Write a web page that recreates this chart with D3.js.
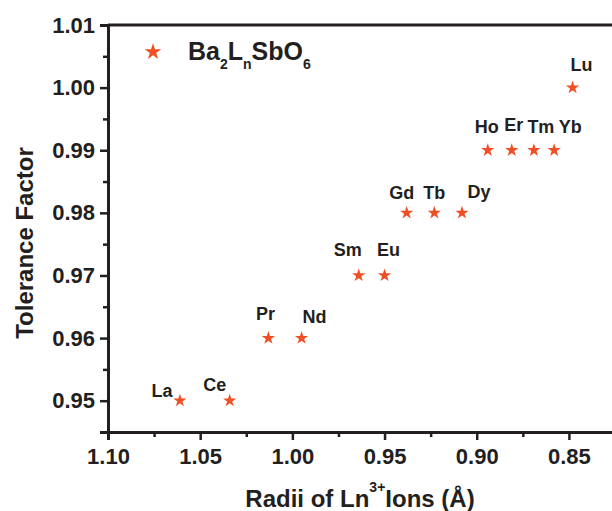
<!DOCTYPE html>
<html>
<head>
<meta charset="utf-8">
<script src="https://cdn.jsdelivr.net/npm/d3@7"></script>
<style>
  body { margin: 0; background: #fff; }
  text { font-family: "Liberation Sans", Arial, sans-serif; font-weight: bold; fill: #231f20; }
</style>
</head>
<body>
<div id="chart"></div>
<script>
// data
var elements = ["La", "Ce", "Pr", "Nd", "Sm", "Eu", "Gd", "Tb", "Dy", "Ho", "Er", "Tm", "Yb", "Lu"];
var radii = [1.061, 1.034, 1.013, 0.995, 0.964, 0.950, 0.938, 0.923, 0.908, 0.894, 0.881, 0.869, 0.858, 0.848];
var tolerance = [0.95, 0.95, 0.96, 0.96, 0.97, 0.97, 0.98, 0.98, 0.98, 0.99, 0.99, 0.99, 0.99, 1.00];
var xTicks = [1.10, 1.05, 1.00, 0.95, 0.90, 0.85];
var yTicks = [0.95, 0.96, 0.97, 0.98, 0.99, 1.00, 1.01];

// label offsets (dx, dy) relative to each star
var labelOffsets = [[-18, -4], [-15, -10], [-3, -18], [13, -15], [-11, -19], [4, -19],
                    [-5, -14], [0, -14], [17, -15], [-1, -17], [2, -19], [7, -17], [16, -17], [9, -17]];

var width = 612, height = 511;
var margin = {left: 108, top: 25, right: -3, bottom: 79};

var svg = d3.select("#chart").append("svg").attr("width", width).attr("height", height);

var x = d3.scaleLinear().domain([1.10, 0.825]).range([margin.left, width - margin.right]);
var y = d3.scaleLinear().domain([0.945, 1.01]).range([height - margin.bottom, margin.top]);

var minorX = d3.range(0, 5).map(function (i) { return 1.075 - i * 0.05; });
var minorY = d3.range(1, 7).map(function (i) { return 0.945 + i * 0.01; });

// x axis
svg.append("g")
    .attr("transform", "translate(0," + y.range()[0] + ")")
    .call(d3.axisBottom(x).tickValues(xTicks).tickFormat(d3.format(".2f")).tickSize(8).tickPadding(8))
    .call(function (g) { g.select(".domain").attr("stroke-width", 3).attr("stroke", "#231f20"); });
svg.append("g")
    .attr("transform", "translate(0," + y.range()[0] + ")")
    .call(d3.axisBottom(x).tickValues(minorX).tickFormat("").tickSize(5))
    .call(function (g) { g.select(".domain").remove(); });

// y axis
svg.append("g")
    .attr("transform", "translate(" + margin.left + ",0)")
    .call(d3.axisLeft(y).tickValues(yTicks).tickFormat(d3.format(".2f")).tickSize(8).tickPadding(5))
    .call(function (g) { g.select(".domain").attr("stroke-width", 3).attr("stroke", "#231f20"); });
svg.append("g")
    .attr("transform", "translate(" + margin.left + ",0)")
    .call(d3.axisLeft(y).tickValues(minorY).tickFormat("").tickSize(5))
    .call(function (g) { g.select(".domain").remove(); });

svg.selectAll(".tick line").attr("stroke", "#231f20").attr("stroke-width", 2.5);
svg.selectAll(".tick text").style("font-size", "22px").style("font-family", "Liberation Sans, Arial, sans-serif")
    .style("font-weight", "bold").attr("fill", "#231f20");

// top frame line
svg.append("line")
    .attr("x1", margin.left).attr("x2", width)
    .attr("y1", y(1.01)).attr("y2", y(1.01))
    .attr("stroke", "#231f20").attr("stroke-width", 3);

// axis titles
svg.append("text")
    .attr("x", 360).attr("y", 507)
    .attr("text-anchor", "middle").style("font-size", "24px")
    .html('Radii of Ln<tspan dy="-15" style="font-size:14px">3+</tspan><tspan dy="15">Ions (Å)</tspan>');

svg.append("text")
    .attr("transform", "translate(33,243) rotate(-90)")
    .attr("text-anchor", "middle").style("font-size", "24px")
    .text("Tolerance Factor");

var star = d3.symbol().type(d3.symbolStar).size(55);
var starColor = "#f04e23";

// data stars
svg.selectAll(".pt").data(elements).enter().append("path")
    .attr("class", "pt")
    .attr("d", star)
    .attr("fill", starColor)
    .attr("transform", function (d, i) { return "translate(" + x(radii[i]) + "," + y(tolerance[i]) + ")"; });

svg.selectAll(".lbl").data(elements).enter().append("text")
    .attr("class", "lbl")
    .attr("text-anchor", "middle")
    .style("font-size", "18px")
    .attr("x", function (d, i) { return x(radii[i]) + labelOffsets[i][0]; })
    .attr("y", function (d, i) { return y(tolerance[i]) + labelOffsets[i][1]; })
    .text(function (d) { return d; });

// legend
svg.append("path").attr("d", d3.symbol().type(d3.symbolStar).size(85)).attr("fill", starColor)
    .attr("transform", "translate(153,52)");
svg.append("text")
    .attr("x", 188).attr("y", 60)
    .style("font-size", "25px")
    .html('Ba<tspan dy="9" style="font-size:14px">2</tspan><tspan dy="-9">L</tspan><tspan dy="9" style="font-size:14px">n</tspan><tspan dy="-9">SbO</tspan><tspan dy="9" style="font-size:14px">6</tspan>');
</script>
</body>
</html>
